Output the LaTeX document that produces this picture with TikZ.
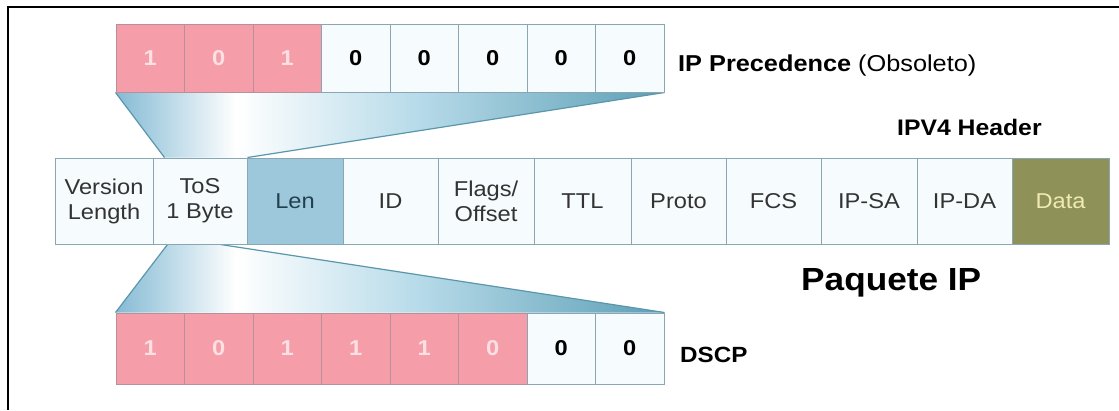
\documentclass[tikz,border=0pt]{standalone}
\usepackage{fontspec}
\setmainfont{Liberation Sans}[FakeStretch=1.1]
\usetikzlibrary{calc}

\definecolor{pinkfill}{HTML}{F59DA8}
\definecolor{pinktext}{HTML}{FCE0E4}
\definecolor{pinkline}{HTML}{B8909A}
\definecolor{cellline}{HTML}{8AA6B3}
\definecolor{cellfill}{HTML}{F6FBFD}
\definecolor{lenfill}{HTML}{9DC8DC}
\definecolor{lentext}{HTML}{22404F}
\definecolor{datafill}{HTML}{8F9258}
\definecolor{datatext}{HTML}{EFEBB4}
\definecolor{labeltext}{HTML}{333333}
\definecolor{funA}{HTML}{84BAD4}
\definecolor{funB}{HTML}{B9DCEA}
\definecolor{funC}{HTML}{5D9FB6}
\definecolor{funline}{HTML}{5A97AC}

% light-blue funnel with a bright glare left of centre
\pgfdeclarehorizontalshading{funnelshade}{100bp}{%
  color(0bp)=(funA); color(25bp)=(funA); color(36bp)=(white);
  color(52bp)=(funB); color(75bp)=(funC); color(100bp)=(funC)}

\tikzset{
  bitpink/.style={draw=pinkline, line width=1pt, fill=pinkfill, text=pinktext,
    minimum width=68.5pt, inner sep=0pt, font=\bfseries\fontsize{21.5}{25}\selectfont},
  bitwhite/.style={draw=cellline, line width=1pt, fill=cellfill, text=black,
    minimum width=68.5pt, inner sep=0pt, font=\bfseries\fontsize{21.5}{25}\selectfont},
  field/.style={draw=cellline, line width=1pt, fill=cellfill, text=labeltext,
    minimum height=86pt, inner sep=0pt, align=center,
    font=\fontsize{21.5}{25}\selectfont},
  lenfield/.style={field, fill=lenfill, text=lentext},
  datafield/.style={field, fill=datafill, text=datatext},
  heading/.style={anchor=base west, inner sep=0pt, text=black},
}

\begin{document}
\begin{tikzpicture}[x=1pt, y=-1pt]
\useasboundingbox (0,0) rectangle (1119,410);
\fill[white] (0,0) rectangle (1119,410);

% frame
\draw[line width=2pt, black] (8,410) -- (8,7) -- (1119,7);

% IP Precedence bits
\foreach \v [count=\i] in {1,0,1} {
  \node[bitpink, minimum height=68pt] (t\i) at ({116+68.5*(\i-0.5)},58) {\v};
}
\foreach \i in {4,...,8} {
  \node[bitwhite, minimum height=68pt] (t\i) at ({116+68.5*(\i-0.5)},58) {0};
}

% DSCP bits
\foreach \v [count=\i] in {1,0,1,1,1,0} {
  \node[bitpink, minimum height=71pt] (d\i) at ({116+68.5*(\i-0.5)},348.5) {\v};
}
\foreach \i in {7,8} {
  \node[bitwhite, minimum height=71pt] (d\i) at ({116+68.5*(\i-0.5)},348.5) {0};
}

% IPv4 header fields
\foreach \l/\r/\st/\txt [count=\i] in {
  55/153/field/{Version\\Length},
  153/247/field/{ToS\\1 Byte},
  247/343/lenfield/Len,
  343/438/field/ID,
  438/534/field/{Flags/\\Offset},
  534/631/field/TTL,
  631/726/field/Proto,
  726/821/field/FCS,
  821/917/field/IP-SA,
  917/1012/field/IP-DA,
  1012/1109/datafield/Data} {
  \node[\st, minimum width={(\r-\l)*1pt}] (f\i) at ({(\l+\r)/2},201) {\txt};
}

% funnels linking the ToS byte to its two readings
\path[shading=funnelshade] (t1.south west) -- (t8.south east)
  -- (f2.north east) -- ($(f2.north west)+(12,0)$) -- cycle;
\draw[funline, line width=1.2pt] (t1.south west) -- ($(f2.north west)+(12,0)$);
\draw[funline, line width=1.2pt] (t8.south east) -- (f2.north east);

\path[shading=funnelshade] ($(f2.south west)+(15,0)$) -- ($(f2.south east)+(-27,0)$)
  -- (d8.north east) -- (d1.north west) -- cycle;
\draw[funline, line width=1.2pt] ($(f2.south west)+(15,0)$) -- (d1.north west);
\draw[funline, line width=1.2pt] ($(f2.south east)+(-27,0)$) -- (d8.north east);

% redraw cells above the funnels
\foreach \v [count=\i] in {1,0,1} {
  \node[bitpink, minimum height=68pt] at ({116+68.5*(\i-0.5)},58) {\v};
}
\foreach \i in {4,...,8} {
  \node[bitwhite, minimum height=68pt] at ({116+68.5*(\i-0.5)},58) {0};
}
\foreach \v [count=\i] in {1,0,1,1,1,0} {
  \node[bitpink, minimum height=71pt] at ({116+68.5*(\i-0.5)},348.5) {\v};
}
\foreach \i in {7,8} {
  \node[bitwhite, minimum height=71pt] at ({116+68.5*(\i-0.5)},348.5) {0};
}
\foreach \l/\r/\st/\txt in {
  55/153/field/{Version\\Length},
  153/247/field/{ToS\\1 Byte},
  247/343/lenfield/Len} {
  \node[\st, minimum width={(\r-\l)*1pt}] at ({(\l+\r)/2},201) {\txt};
}

% headings
\node[heading, font=\fontsize{23}{27}\selectfont] (prec) at (678,71)
  {\textbf{IP Precedence} (Obsoleto)};
\node[heading, font=\bfseries\fontsize{22.5}{26}\selectfont] (hdr) at (897,135) {IPV4 Header};
\node[heading, font=\bfseries\fontsize{32}{38}\selectfont] (pkt) at (801,290) {Paquete IP};
\node[heading, font=\bfseries\fontsize{22}{26}\selectfont] (dscp) at (680,362) {DSCP};
\end{tikzpicture}
\end{document}
